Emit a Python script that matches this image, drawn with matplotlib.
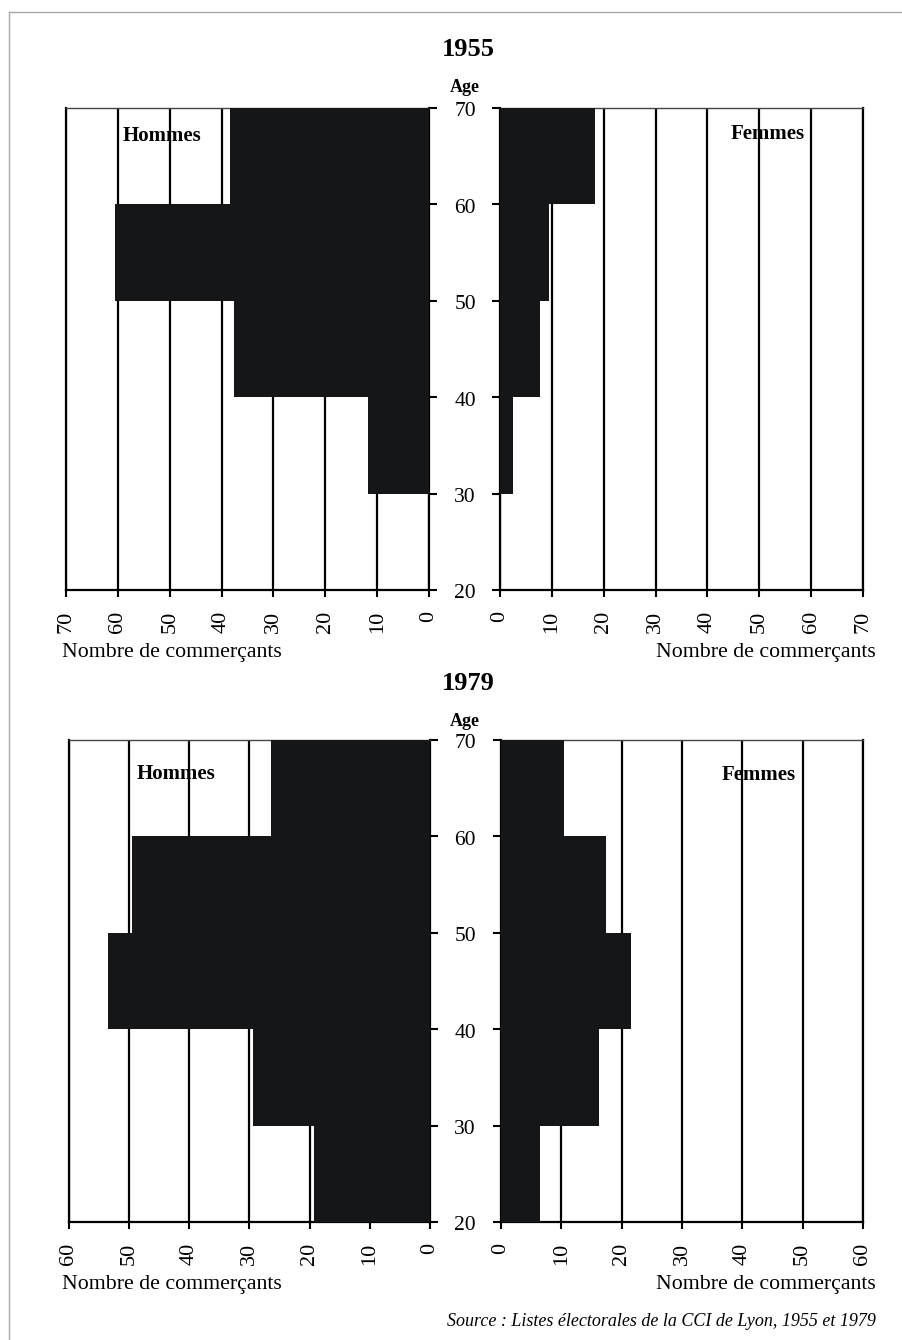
import matplotlib

matplotlib.use("Agg")
import matplotlib.pyplot as plt
from matplotlib.lines import Line2D
from matplotlib.transforms import blended_transform_factory

plt.rcParams["font.family"] = ["Liberation Serif", "DejaVu Serif"]

# tranches d'age (bord inferieur), largeur 10 ans
ages = [20, 30, 40, 50, 60]
age_ticks = [20, 30, 40, 50, 60, 70]

hommes_1955 = [0, 11.8, 37.6, 60.5, 38.4]
femmes_1955 = [0, 2.6, 7.7, 9.4, 18.4]
hommes_1979 = [19.3, 29.4, 53.6, 49.6, 26.5]
femmes_1979 = [6.5, 16.2, 21.5, 17.4, 10.5]

max_1955 = 70
max_1979 = 60

W, H = 903, 1340
BAR = "#151618"


def fx(px):
    return px / W


def fy(py):
    return 1 - py / H


fig = plt.figure(figsize=(W / 100, H / 100), dpi=100)


def style_axes(ax, xmax, side):
    ax.set_ylim(20, 70)
    ax.set_xticks(range(0, xmax + 1, 10))
    ax.set_xticklabels([str(v) for v in range(0, xmax + 1, 10)], rotation=90, fontsize=16)
    ax.set_yticks(age_ticks)
    ax.grid(axis="x", color="black", lw=1.6)
    ax.set_axisbelow(True)
    for s in ["left", "right", "bottom"]:
        ax.spines[s].set_color("black")
        ax.spines[s].set_linewidth(1.6)
    ax.spines["top"].set_color("#444444")
    ax.spines["top"].set_linewidth(1.0)
    ax.tick_params(axis="x", direction="out", length=5, width=1.5, pad=10)
    if side == "left":
        ax.set_xlim(xmax, 0)
        ax.yaxis.tick_right()
    else:
        ax.set_xlim(0, xmax)
        ax.yaxis.tick_left()
    ax.tick_params(axis="y", direction="out", length=6, width=1.5,
                   labelleft=False, labelright=False)


def panel(year, hommes, femmes, xmax, top, bottom, lx, rx, title_y, age_y, h_pos, f_pos):
    axl = fig.add_axes([fx(lx[0]), fy(bottom), fx(lx[1] - lx[0]), (bottom - top) / H])
    axr = fig.add_axes([fx(rx[0]), fy(bottom), fx(rx[1] - rx[0]), (bottom - top) / H])
    axl.barh(ages, hommes, height=10, align="edge", color=BAR, lw=0, zorder=3)
    axr.barh(ages, femmes, height=10, align="edge", color=BAR, lw=0, zorder=3)
    style_axes(axl, xmax, "left")
    style_axes(axr, xmax, "right")

    # etiquettes d'age au milieu
    tr = blended_transform_factory(fig.transFigure, axl.transData)
    for a in age_ticks:
        axl.text(fx(465), a - 0.4, str(a), transform=tr, ha="center", va="center",
                 fontsize=15.5, clip_on=False)

    fig.text(fx(468), fy(title_y), year, ha="center", va="center",
             fontsize=19, fontweight="bold")
    fig.text(fx(465), fy(age_y), "Age", ha="center", va="center",
             fontsize=13, fontweight="bold")
    fig.text(fx(h_pos[0]), fy(h_pos[1]), "Hommes", ha="center", va="center",
             fontsize=15, fontweight="bold")
    fig.text(fx(f_pos[0]), fy(f_pos[1]), "Femmes", ha="center", va="center",
             fontsize=15, fontweight="bold")

    lab_y = bottom + 63
    fig.text(fx(62), fy(lab_y), "Nombre de commerçants", ha="left", va="center", fontsize=15.7)
    fig.text(fx(876), fy(lab_y), "Nombre de commerçants", ha="right", va="center", fontsize=15.7)


panel("1955", hommes_1955, femmes_1955, max_1955, 108, 590,
      (66, 429), (500, 863), 49, 87, (162, 136), (768, 134))
panel("1979", hommes_1979, femmes_1979, max_1979, 740, 1222,
      (69, 430), (501, 863), 683, 721, (176, 774), (759, 775))

fig.text(fx(876), fy(1321), "Source : Listes électorales de la CCI de Lyon, 1955 et 1979",
         ha="right", va="center", fontsize=13, style="italic")

# bord gris de la page scannee
fig.add_artist(Line2D([fx(9), 1], [fy(12), fy(12)], color="#aaaaaa", lw=1.0))
fig.add_artist(Line2D([fx(9), fx(9)], [fy(12), 0], color="#aaaaaa", lw=1.0))

fig.savefig("out.png", dpi=100)
